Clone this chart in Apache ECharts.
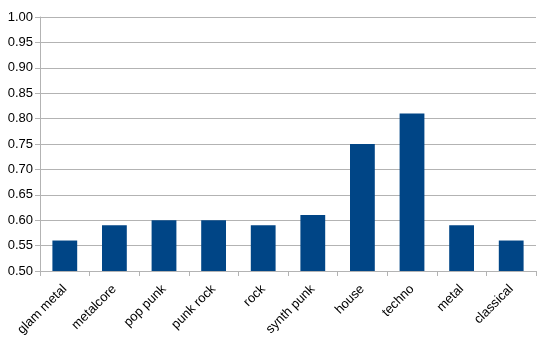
<!DOCTYPE html>
<html><head><meta charset="utf-8">
<script src="https://cdn.jsdelivr.net/npm/echarts@6/dist/echarts.min.js"></script>
<style>html,body{margin:0;padding:0;background:#fff}#c{width:550px;height:348px}</style>
</head><body><div id="c"></div>
<script>
const categories = ["glam metal","metalcore","pop punk","punk rock","rock","synth punk","house","techno","metal","classical"];
const values = [0.56,0.59,0.60,0.60,0.59,0.61,0.75,0.81,0.59,0.56];
const chart = echarts.init(document.getElementById('c'));
chart.setOption({
  animation:false,
  grid:{left:40,right:14,top:17,bottom:77},
  xAxis:{type:'category',data:categories,
    axisLine:{lineStyle:{color:'#b3b3b3'}},
    axisTick:{show:true,length:5,lineStyle:{color:'#b3b3b3'}},
    axisLabel:{rotate:45,interval:0,color:'#000',fontFamily:'Liberation Sans',fontSize:13,margin:16}},
  yAxis:{type:'value',min:0.5,max:1.0,interval:0.05,
    axisLine:{show:true,lineStyle:{color:'#b3b3b3'}},
    axisTick:{show:true,length:5,lineStyle:{color:'#b3b3b3'}},
    splitLine:{lineStyle:{color:'#b3b3b3'}},
    axisLabel:{color:'#000',fontFamily:'Liberation Sans',fontSize:13,margin:7,formatter:v=>v.toFixed(2)}},
  series:[{type:'bar',data:values,barWidth:'50%',itemStyle:{color:'#004586'}}]
});
</script></body></html>
